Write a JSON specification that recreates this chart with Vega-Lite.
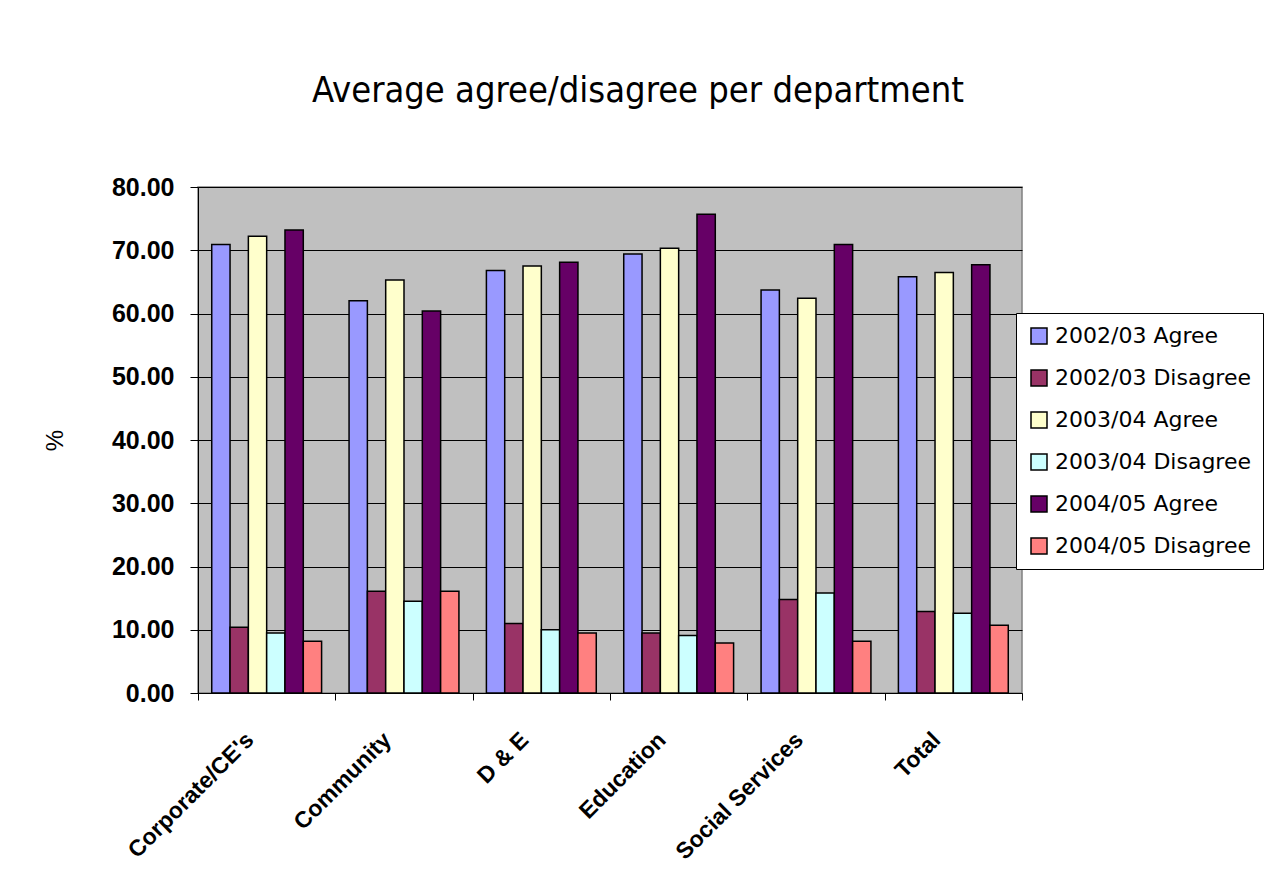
{
  "$schema": "https://vega.github.io/schema/vega-lite/v6.json",
  "width": 824,
  "height": 506,
  "autosize": {"type": "none"},
  "padding": {"left": 198, "top": 187, "right": 251, "bottom": 201},
  "background": "white",
  "title": {
    "text": "Average agree/disagree per department",
    "font": "DejaVu Sans Condensed, Liberation Sans Narrow, DejaVu Sans",
    "fontSize": 36,
    "fontWeight": "normal",
    "color": "black",
    "anchor": "middle",
    "frame": "group",
    "dx": 28,
    "offset": 65
  },
  "data": {
    "values": [
      {"dept": "Corporate/CE's", "series": "2002/03 Agree", "value": 70.9},
      {"dept": "Corporate/CE's", "series": "2002/03 Disagree", "value": 10.4},
      {"dept": "Corporate/CE's", "series": "2003/04 Agree", "value": 72.2},
      {"dept": "Corporate/CE's", "series": "2003/04 Disagree", "value": 9.5},
      {"dept": "Corporate/CE's", "series": "2004/05 Agree", "value": 73.2},
      {"dept": "Corporate/CE's", "series": "2004/05 Disagree", "value": 8.2},
      {"dept": "Community", "series": "2002/03 Agree", "value": 62.0},
      {"dept": "Community", "series": "2002/03 Disagree", "value": 16.1},
      {"dept": "Community", "series": "2003/04 Agree", "value": 65.3},
      {"dept": "Community", "series": "2003/04 Disagree", "value": 14.5},
      {"dept": "Community", "series": "2004/05 Agree", "value": 60.4},
      {"dept": "Community", "series": "2004/05 Disagree", "value": 16.1},
      {"dept": "D & E", "series": "2002/03 Agree", "value": 66.8},
      {"dept": "D & E", "series": "2002/03 Disagree", "value": 11.0},
      {"dept": "D & E", "series": "2003/04 Agree", "value": 67.5},
      {"dept": "D & E", "series": "2003/04 Disagree", "value": 10.0},
      {"dept": "D & E", "series": "2004/05 Agree", "value": 68.1},
      {"dept": "D & E", "series": "2004/05 Disagree", "value": 9.5},
      {"dept": "Education", "series": "2002/03 Agree", "value": 69.4},
      {"dept": "Education", "series": "2002/03 Disagree", "value": 9.5},
      {"dept": "Education", "series": "2003/04 Agree", "value": 70.3},
      {"dept": "Education", "series": "2003/04 Disagree", "value": 9.1},
      {"dept": "Education", "series": "2004/05 Agree", "value": 75.7},
      {"dept": "Education", "series": "2004/05 Disagree", "value": 7.9},
      {"dept": "Social Services", "series": "2002/03 Agree", "value": 63.7},
      {"dept": "Social Services", "series": "2002/03 Disagree", "value": 14.8},
      {"dept": "Social Services", "series": "2003/04 Agree", "value": 62.4},
      {"dept": "Social Services", "series": "2003/04 Disagree", "value": 15.8},
      {"dept": "Social Services", "series": "2004/05 Agree", "value": 70.9},
      {"dept": "Social Services", "series": "2004/05 Disagree", "value": 8.2},
      {"dept": "Total", "series": "2002/03 Agree", "value": 65.8},
      {"dept": "Total", "series": "2002/03 Disagree", "value": 12.9},
      {"dept": "Total", "series": "2003/04 Agree", "value": 66.5},
      {"dept": "Total", "series": "2003/04 Disagree", "value": 12.6},
      {"dept": "Total", "series": "2004/05 Agree", "value": 67.7},
      {"dept": "Total", "series": "2004/05 Disagree", "value": 10.7}
    ]
  },
  "mark": {"type": "bar", "stroke": "black", "strokeWidth": 1.5},
  "encoding": {
    "x": {
      "field": "dept",
      "type": "nominal",
      "sort": null,
      "scale": {"paddingInner": 0, "paddingOuter": 0},
      "axis": {
        "title": null,
        "labelAngle": -45,
        "labelAlign": "right",
        "labelBaseline": "middle",
        "labelFont": "Liberation Sans",
        "labelFontWeight": "bold",
        "labelFontSize": 23,
        "labelColor": "black",
        "labelPadding": 36,
        "labelOffset": -17,
        "tickBand": "extent",
        "tickColor": "black",
        "tickSize": 7,
        "domainColor": "black",
        "domainWidth": 1
      }
    },
    "xOffset": {
      "field": "series",
      "type": "nominal",
      "sort": null,
      "scale": {"paddingInner": 0, "paddingOuter": 0.75}
    },
    "y": {
      "field": "value",
      "type": "quantitative",
      "scale": {"domain": [0, 80], "nice": false},
      "axis": {
        "title": "%",
        "titleFont": "Liberation Sans",
        "titleFontSize": 24,
        "titleFontWeight": "normal",
        "titleColor": "black",
        "titlePadding": 44,
        "values": [0, 10, 20, 30, 40, 50, 60, 70, 80],
        "format": ".2f",
        "labelFont": "Liberation Sans",
        "labelFontWeight": "bold",
        "labelFontSize": 25,
        "labelColor": "black",
        "labelPadding": 16,
        "tickColor": "black",
        "tickSize": 8,
        "domainColor": "black",
        "gridColor": "black",
        "gridWidth": 1,
        "gridOpacity": 1
      }
    },
    "color": {
      "field": "series",
      "type": "nominal",
      "sort": null,
      "scale": {
        "domain": ["2002/03 Agree", "2002/03 Disagree", "2003/04 Agree", "2003/04 Disagree", "2004/05 Agree", "2004/05 Disagree"],
        "range": ["#9999FF", "#993366", "#FFFFCC", "#CCFFFF", "#660066", "#FF8080"]
      },
      "legend": {
        "title": null,
        "orient": "none",
        "legendX": 818,
        "legendY": 126,
        "fillColor": "white",
        "strokeColor": "black",
        "padding": 12,
        "symbolType": "square",
        "symbolSize": 256,
        "symbolStrokeColor": "black",
        "symbolStrokeWidth": 1.5,
        "symbolOpacity": 1,
        "labelFont": "DejaVu Sans",
        "labelFontSize": 22,
        "labelLimit": 400,
        "labelColor": "black",
        "labelOffset": 5,
        "rowPadding": 20
      }
    }
  },
  "config": {
    "view": {"fill": "#C0C0C0", "stroke": "#808080", "strokeWidth": 1.5}
  }
}
